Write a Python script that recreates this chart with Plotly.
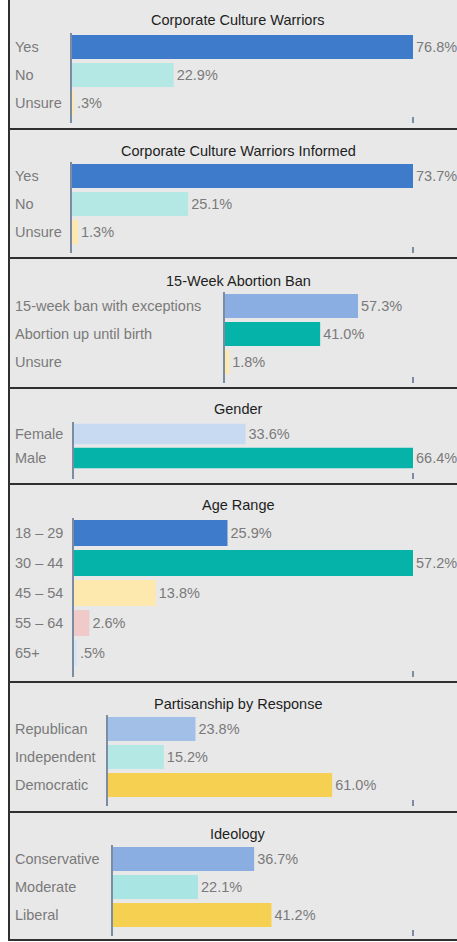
import plotly.graph_objects as go

W, H = 457, 942

# ---- data ----
titles = [
    "Corporate Culture Warriors",
    "Corporate Culture Warriors Informed",
    "15-Week Abortion Ban",
    "Gender",
    "Age Range",
    "Partisanship by Response",
    "Ideology",
]
cats_warriors = ["Yes", "No", "Unsure"]
vals_warriors = [76.8, 22.9, 0.3]
cats_informed = ["Yes", "No", "Unsure"]
vals_informed = [73.7, 25.1, 1.3]
cats_abortion = ["15-week ban with exceptions", "Abortion up until birth", "Unsure"]
vals_abortion = [57.3, 41.0, 1.8]
cats_gender = ["Female", "Male"]
vals_gender = [33.6, 66.4]
cats_age = ["18 \u2013 29", "30 \u2013 44", "45 \u2013 54", "55 \u2013 64", "65+"]
vals_age = [25.9, 57.2, 13.8, 2.6, 0.5]
cats_party = ["Republican", "Independent", "Democratic"]
vals_party = [23.8, 15.2, 61.0]
cats_ideology = ["Conservative", "Moderate", "Liberal"]
vals_ideology = [36.7, 22.1, 41.2]

# ---- styles ----
BLUE = "#3e7ccb"
LTEAL = "#b3e8e4"
PYEL = "#fde9ad"
MBLUE = "#8aaee1"
TEAL = "#05b3a9"
LBLUE = "#c7daf1"
PINK = "#f0c9c9"
PALEB = "#d6e5f6"
RBLUE = "#a2bfe7"
GOLD = "#f6d050"
MTEAL = "#a9e5e2"

colors = [
    [BLUE, LTEAL, PYEL],
    [BLUE, LTEAL, PYEL],
    [MBLUE, TEAL, PYEL],
    [LBLUE, TEAL],
    [BLUE, TEAL, PYEL, PINK, PALEB],
    [RBLUE, LTEAL, GOLD],
    [MBLUE, MTEAL, GOLD],
]
cats_all = [cats_warriors, cats_informed, cats_abortion, cats_gender, cats_age, cats_party, cats_ideology]
vals_all = [vals_warriors, vals_informed, vals_abortion, vals_gender, vals_age, vals_party, vals_ideology]

# layout geometry (pixels)
axis_x = [72, 72, 225, 74, 74, 108, 113]
plot_top = [33, 162, 292, 422, 518, 715, 845]
plot_bot = [123, 253, 383, 479, 677, 806, 936]
row_sp = [28, 28, 28, 24, 30, 28, 28]
x_max = [76.8, 73.7, 81.0, 66.4, 57.2, 83.0, 78.0]
title_y = [20, 151, 281, 409, 505, 704, 834]
panel_y = [(-5, 129), (129, 258), (258, 388), (388, 484), (484, 682), (682, 812), (812, 940)]
tick_x = 413      # pixel position of the right-hand tick
dom_right = 418   # right edge of the axis domain

AXC = "#7b8ca3"
TXT = "#7a7a7a"
FONT = "Liberation Sans, Arial, sans-serif"


def fmt(v):
    s = f"{v:.1f}%"
    if s.startswith("0."):
        s = s[1:]
    return s


fig = go.Figure()
shapes = []
annotations = []

for i in range(7):
    xa = "x" if i == 0 else f"x{i+1}"
    ya = "y" if i == 0 else f"y{i+1}"
    cats = cats_all[i]
    vals = vals_all[i]
    fig.add_trace(go.Bar(
        x=vals, y=cats, orientation="h",
        marker=dict(color=colors[i], line=dict(width=0)),
        width=0.86,
        text=[fmt(v) for v in vals], textposition="outside",
        textfont=dict(color=TXT, size=14.5, family=FONT),
        cliponaxis=False, xaxis=xa, yaxis=ya, showlegend=False,
        hoverinfo="skip",
    ))
    ybot = -0.5 + (plot_bot[i] - plot_top[i]) / row_sp[i]
    xr = x_max[i] * (dom_right - axis_x[i]) / (tick_x - axis_x[i])
    fig.layout[("xaxis" if i == 0 else f"xaxis{i+1}")] = dict(
        domain=[axis_x[i] / W, dom_right / W], range=[0, xr],
        anchor=ya, showgrid=False, zeroline=False, showline=False,
        tickvals=[x_max[i]], ticks="inside", ticklen=6, tickwidth=2,
        tickcolor=AXC, showticklabels=False, fixedrange=True,
    )
    fig.layout[("yaxis" if i == 0 else f"yaxis{i+1}")] = dict(
        domain=[1 - plot_bot[i] / H, 1 - plot_top[i] / H],
        range=[ybot, -0.5], type="category", categoryarray=cats,
        anchor=xa, showgrid=False, zeroline=False, showline=True,
        linecolor=AXC, linewidth=2, showticklabels=False, ticks="",
        fixedrange=True,
    )
    # panel background + border
    y0, y1 = panel_y[i]
    shapes.append(dict(type="rect", xref="paper", yref="paper",
                       x0=9 / W, x1=(W + 10) / W, y0=1 - y1 / H, y1=1 - y0 / H,
                       fillcolor="#e8e8e8", line=dict(color="#303030", width=2),
                       layer="below"))
    annotations.append(dict(text=titles[i], xref="paper", yref="paper",
                            x=238 / W, y=1 - title_y[i] / H, xanchor="center",
                            yanchor="middle", showarrow=False,
                            font=dict(color="#1e1e1e", size=14.5, family=FONT)))
    for c in cats:
        annotations.append(dict(text=c, xref="paper", yref=ya, x=13 / W, y=c,
                                xanchor="left", yanchor="middle", showarrow=False,
                                font=dict(color=TXT, size=14.5, family=FONT)))

fig.update_layout(
    width=W, height=H, margin=dict(l=0, r=0, t=0, b=0),
    paper_bgcolor="white", plot_bgcolor="rgba(0,0,0,0)",
    shapes=shapes, annotations=annotations, font=dict(family=FONT),
)

fig.write_html(
    "out.html",
    config={"displayModeBar": False},
    post_script="document.body.style.margin='0';document.body.style.overflow='hidden';",
)
